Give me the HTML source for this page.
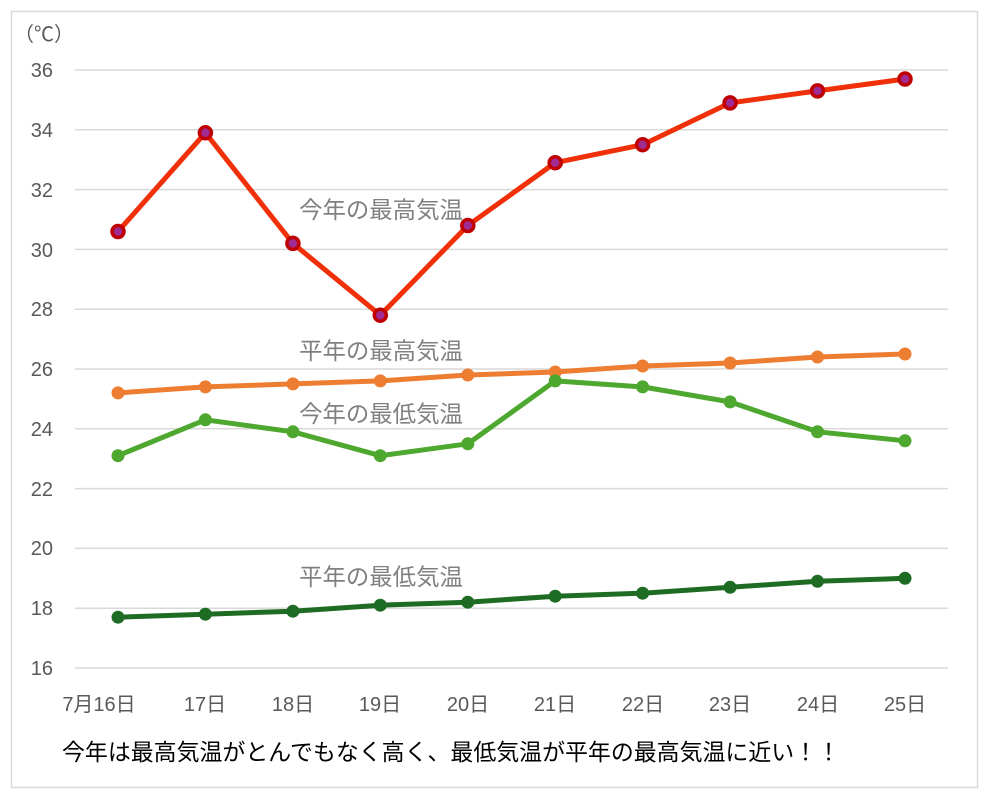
<!DOCTYPE html>
<html><head><meta charset="utf-8"><style>
html,body{margin:0;padding:0;background:#fff;}
svg{display:block;font-family:"Liberation Sans","Noto Sans CJK JP",sans-serif;}
</style></head><body>
<svg width="1000" height="803" viewBox="0 0 1000 803">
<rect x="11.5" y="11.5" width="966" height="776" fill="#fff" stroke="#d9d9d9" stroke-width="1.5"/>
<g stroke="#d9d9d9" stroke-width="1.5">
<line x1="75" x2="948" y1="70" y2="70"/><line x1="75" x2="948" y1="129.8" y2="129.8"/><line x1="75" x2="948" y1="189.6" y2="189.6"/><line x1="75" x2="948" y1="249.4" y2="249.4"/><line x1="75" x2="948" y1="309.2" y2="309.2"/><line x1="75" x2="948" y1="369" y2="369"/><line x1="75" x2="948" y1="428.8" y2="428.8"/><line x1="75" x2="948" y1="488.6" y2="488.6"/><line x1="75" x2="948" y1="548.4" y2="548.4"/><line x1="75" x2="948" y1="608.2" y2="608.2"/><line x1="75" x2="948" y1="668" y2="668"/>
</g>
<g fill="#595959" font-size="20" text-anchor="end">
<text x="53" y="77">36</text><text x="53" y="137">34</text><text x="53" y="197">32</text><text x="53" y="257">30</text><text x="53" y="316">28</text><text x="53" y="376">26</text><text x="53" y="436">24</text><text x="53" y="496">22</text><text x="53" y="555">20</text><text x="53" y="615">18</text><text x="53" y="675">16</text>
</g>
<text x="14" y="41" fill="#595959" font-size="20" font-family="'Noto Sans CJK JP',sans-serif">（℃）</text>
<g fill="#595959" font-size="20" text-anchor="middle">
<text x="99" y="711">7月16日</text><text x="205" y="711">17日</text><text x="293" y="711">18日</text><text x="380" y="711">19日</text><text x="468" y="711">20日</text><text x="555" y="711">21日</text><text x="643" y="711">22日</text><text x="730" y="711">23日</text><text x="818" y="711">24日</text><text x="905" y="711">25日</text>
</g>
<g fill="#808080" font-size="23.4" text-anchor="middle">
<text x="381" y="218">今年の最高気温</text>
<text x="381" y="359">平年の最高気温</text>
<text x="381" y="422">今年の最低気温</text>
<text x="381" y="585">平年の最低気温</text>
</g>
<g fill="none" stroke-width="5" stroke-linejoin="round">
<polyline stroke="#ed7d31" points="118,392.9 205.4,386.9 292.9,383.9 380.3,380.9 467.8,375 555.2,372 642.6,366 730.1,363 817.5,357 905,354"/>
<polyline stroke="#4ea72e" points="118,455.7 205.4,419.8 292.9,431.8 380.3,455.7 467.8,443.8 555.2,380.9 642.6,386.9 730.1,401.9 817.5,431.8 905,440.8"/>
<polyline stroke="#1e6b24" points="118,617.2 205.4,614.2 292.9,611.2 380.3,605.2 467.8,602.2 555.2,596.2 642.6,593.2 730.1,587.3 817.5,581.3 905,578.3"/>
<polyline stroke="#f03008" points="118,231.5 205.4,132.8 292.9,243.4 380.3,315.2 467.8,225.5 555.2,162.7 642.6,144.7 730.1,102.9 817.5,90.9 905,79"/>
</g>
<g fill="#ed7d31"><circle cx="118" cy="392.9" r="6.5"/><circle cx="205.4" cy="386.9" r="6.5"/><circle cx="292.9" cy="383.9" r="6.5"/><circle cx="380.3" cy="380.9" r="6.5"/><circle cx="467.8" cy="375" r="6.5"/><circle cx="555.2" cy="372" r="6.5"/><circle cx="642.6" cy="366" r="6.5"/><circle cx="730.1" cy="363" r="6.5"/><circle cx="817.5" cy="357" r="6.5"/><circle cx="905" cy="354" r="6.5"/></g>
<g fill="#4ea72e"><circle cx="118" cy="455.7" r="6.5"/><circle cx="205.4" cy="419.8" r="6.5"/><circle cx="292.9" cy="431.8" r="6.5"/><circle cx="380.3" cy="455.7" r="6.5"/><circle cx="467.8" cy="443.8" r="6.5"/><circle cx="555.2" cy="380.9" r="6.5"/><circle cx="642.6" cy="386.9" r="6.5"/><circle cx="730.1" cy="401.9" r="6.5"/><circle cx="817.5" cy="431.8" r="6.5"/><circle cx="905" cy="440.8" r="6.5"/></g>
<g fill="#1e6b24"><circle cx="118" cy="617.2" r="6.5"/><circle cx="205.4" cy="614.2" r="6.5"/><circle cx="292.9" cy="611.2" r="6.5"/><circle cx="380.3" cy="605.2" r="6.5"/><circle cx="467.8" cy="602.2" r="6.5"/><circle cx="555.2" cy="596.2" r="6.5"/><circle cx="642.6" cy="593.2" r="6.5"/><circle cx="730.1" cy="587.3" r="6.5"/><circle cx="817.5" cy="581.3" r="6.5"/><circle cx="905" cy="578.3" r="6.5"/></g>
<g fill="#a02b93" stroke="#c00000" stroke-width="3.5"><circle cx="118" cy="231.5" r="6"/><circle cx="205.4" cy="132.8" r="6"/><circle cx="292.9" cy="243.4" r="6"/><circle cx="380.3" cy="315.2" r="6"/><circle cx="467.8" cy="225.5" r="6"/><circle cx="555.2" cy="162.7" r="6"/><circle cx="642.6" cy="144.7" r="6"/><circle cx="730.1" cy="102.9" r="6"/><circle cx="817.5" cy="90.9" r="6"/><circle cx="905" cy="79" r="6"/></g>
<text x="62" y="760" fill="#000" font-size="23" textLength="778" lengthAdjust="spacingAndGlyphs">今年は最高気温がとんでもなく高く、最低気温が平年の最高気温に近い！！</text>
</svg>
</body></html>
